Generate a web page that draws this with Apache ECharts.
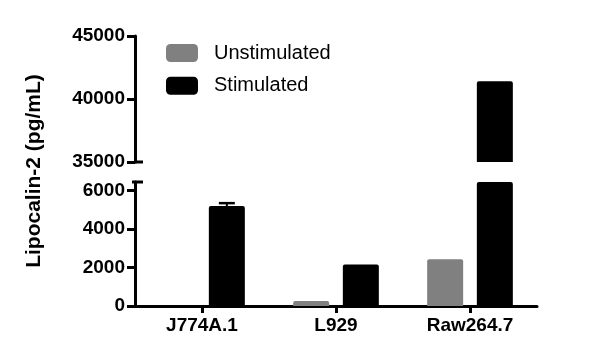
<!DOCTYPE html>
<html>
<head>
<meta charset="utf-8">
<script src="https://cdn.jsdelivr.net/npm/echarts@6/dist/echarts.min.js"></script>
<style>html,body{margin:0;padding:0;background:#fff;}#c{width:600px;height:361px;}</style>
</head>
<body>
<div id="c"></div>
<script>
// ---- data ----
const categories = ['J774A.1', 'L929', 'Raw264.7'];
const unstimulated = [0, 260, 2430];
const stimulated = [5200, 2160, 41400];
const stimulatedErr = [150, 0, 0];
const topTicks = [35000, 40000, 45000];
const bottomTicks = [0, 2000, 4000, 6000];
const yTitle = 'Lipocalin-2 (pg/mL)';

// ---- style ----
const FONT = '"Liberation Sans", Arial, Helvetica, sans-serif';
const GRID_LEFT = 135, GRID_RIGHT = 63;
const BAR_W = 36, BAR_GAP = 0.38;
const AX = 3;

const chart = echarts.init(document.getElementById('c'), null, {renderer: 'canvas'});

const yLabel = {show: true, fontSize: 19, fontWeight: 'bold', color: '#000', fontFamily: FONT, margin: 10,
  formatter: function (v) { return String(v); }};
const yLine = {show: true, lineStyle: {color: '#000', width: AX}};
const yTick = {show: true, length: 8, inside: false, lineStyle: {color: '#000', width: AX}};

function barSeries(name, data, color, gi) {
  return {
    type: 'bar', name: name, data: data, xAxisIndex: gi, yAxisIndex: gi,
    barWidth: BAR_W, barGap: (BAR_GAP * 100) + '%',
    itemStyle: {color: color, borderRadius: [2, 2, 0, 0]},
    emphasis: {disabled: true}, animation: false
  };
}

const option = {
  animation: false,
  backgroundColor: '#fff',
  legend: {
    orient: 'vertical', left: 166, top: 43, padding: 0,
    itemWidth: 32, itemHeight: 18, itemGap: 12.7,
    icon: 'roundRect',
    data: ['Unstimulated', 'Stimulated'],
    textStyle: {fontSize: 20, color: '#000', fontFamily: FONT, padding: [0, 0, 0, 11]},
    selectedMode: false
  },
  grid: [
    {left: GRID_LEFT, right: GRID_RIGHT, top: 36, height: 126},
    {left: GRID_LEFT, right: GRID_RIGHT, top: 182, height: 124}
  ],
  xAxis: [
    {type: 'category', gridIndex: 0, data: categories, show: false},
    {type: 'category', gridIndex: 1, data: categories,
     axisLine: {show: true, lineStyle: {color: '#000', width: AX}},
     axisTick: {show: true, alignWithLabel: true, length: 7, lineStyle: {color: '#000', width: AX}},
     axisLabel: {fontSize: 19, fontWeight: 'bold', color: '#000', fontFamily: FONT, margin: 10}}
  ],
  yAxis: [
    {type: 'value', gridIndex: 0, min: 35000, max: 45000, interval: 5000,
     splitLine: {show: false}, axisLine: yLine, axisTick: yTick, axisLabel: yLabel},
    {type: 'value', gridIndex: 1, min: 0, max: 6450, interval: 2000,
     splitLine: {show: false}, axisLine: yLine,
     axisTick: Object.assign({}, yTick, {customValues: bottomTicks}),
     axisLabel: Object.assign({}, yLabel, {customValues: bottomTicks})}
  ],
  series: [
    barSeries('Unstimulated', unstimulated, '#808080', 0),
    barSeries('Stimulated', stimulated, '#000000', 0),
    barSeries('Unstimulated', unstimulated, '#808080', 1),
    barSeries('Stimulated', stimulated, '#000000', 1),
    {
      type: 'custom', name: 'err', xAxisIndex: 1, yAxisIndex: 1, z: 3,
      data: categories.map((c, i) => [i, stimulated[i], stimulatedErr[i]]),
      encode: {x: 0, y: 1},
      renderItem: function (params, api) {
        const i = api.value(0), v = api.value(1), e = api.value(2);
        if (!e) return null;
        const off = BAR_W * (1 + BAR_GAP) / 2;
        const p1 = api.coord([i, v]);
        const p2 = api.coord([i, v + e]);
        const x = p1[0] + off;
        return {type: 'group', children: [
          {type: 'line', shape: {x1: x, y1: p1[1], x2: x, y2: p2[1]}, style: {stroke: '#000', lineWidth: 2}},
          {type: 'line', shape: {x1: x - 8, y1: p2[1], x2: x + 8, y2: p2[1]}, style: {stroke: '#000', lineWidth: 2.5}}
        ]};
      }
    }
  ],
  graphic: []
};
chart.setOption(option);

// break caps and y title
const yBreakTop = chart.convertToPixel({yAxisIndex: 0}, 35000);
const yBreakBot = chart.convertToPixel({yAxisIndex: 1}, 6450);
const yMidTop = chart.convertToPixel({yAxisIndex: 0}, 45000);
const yMidBot = chart.convertToPixel({yAxisIndex: 1}, 0);
chart.setOption({
  graphic: [
    {type: 'line', shape: {x1: GRID_LEFT, y1: yBreakTop, x2: GRID_LEFT + 8, y2: yBreakTop}, style: {stroke: '#000', lineWidth: AX}},
    {type: 'line', shape: {x1: GRID_LEFT - 3, y1: yBreakBot, x2: GRID_LEFT + 8, y2: yBreakBot}, style: {stroke: '#000', lineWidth: AX}},
    {type: 'text', x: 34, y: (yMidTop + yMidBot) / 2, rotation: Math.PI / 2,
     style: {text: yTitle, fill: '#000', font: 'bold 21px ' + FONT, align: 'center', verticalAlign: 'middle'}}
  ]
});
</script>
</body>
</html>
